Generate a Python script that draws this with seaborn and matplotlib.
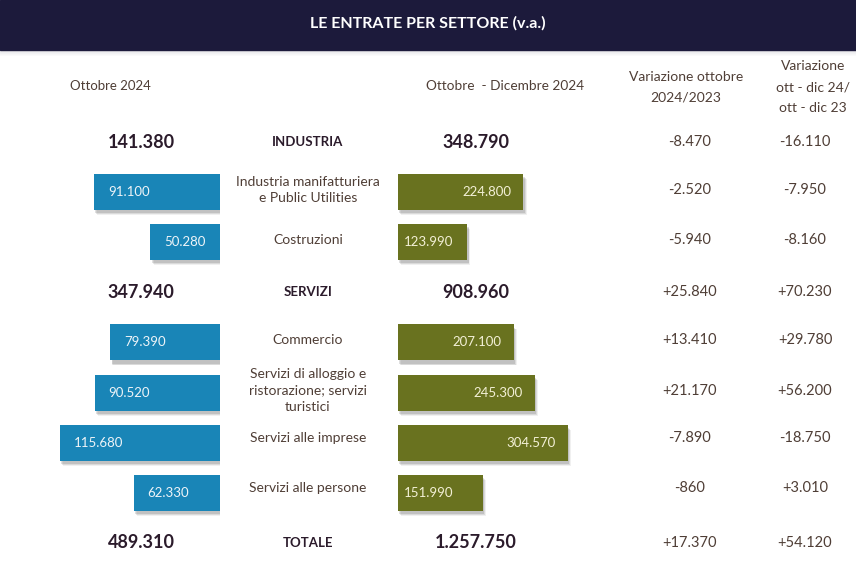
import matplotlib
matplotlib.use("Agg")
import matplotlib.pyplot as plt
import matplotlib.patheffects as pe
import pandas as pd
import seaborn as sns

sns.set_style("white")
plt.rcParams['font.family'] = ['Lato', 'DejaVu Sans']

# Data (rows top to bottom)
rows = ["INDUSTRIA", "Industria manifatturiera\ne Public Utilities", "Costruzioni",
        "SERVIZI", "Commercio", "Servizi di alloggio e\nristorazione; servizi\nturistici",
        "Servizi alle imprese", "Servizi alle persone", "TOTALE"]
is_total = [True, False, False, True, False, False, False, False, True]
ott_2024 = [141380, 91100, 50280, 347940, 79390, 90520, 115680, 62330, 489310]
ott_dic_2024 = [348790, 224800, 123990, 908960, 207100, 245300, 304570, 151990, 1257750]
var_ott = [-8470, -2520, -5940, 25840, 13410, 21170, -7890, -860, 17370]
var_ott_dic = [-16110, -7950, -8160, 70230, 29780, 56200, -18750, 3010, 54120]

title = "LE ENTRATE PER SETTORE (v.a.)"
col_headers = ["Ottobre 2024", "Ottobre  - Dicembre 2024",
               "Variazione ottobre\n2024/2023", "Variazione\nott - dic 24/\nott - dic 23"]

BLUE = "#1985b7"
OLIVE = "#69721f"
NAVY = "#1c1a3b"
DARK = "#2b1b2b"
TEXT = "#4f3e36"


def fmt(v, sign=False):
    s = f"{abs(v):,}".replace(",", ".")
    if v < 0:
        return "-" + s
    return ("+" + s) if sign else s


W, H = 856, 571
fig = plt.figure(figsize=(W / 100, H / 100), dpi=100)
fig.patch.set_facecolor("white")

# Row geometry in pixels
y_top, y_bot = 117, 568
n = len(rows)
row_h = (y_bot - y_top) / n
row_y = [y_top + row_h * (i + 0.5) for i in range(n)]
text_y = [y - (0 if is_total[i] else 2 + 3 * (i > 5)) for i, y in enumerate(row_y)]

# Overlay axes in pixel coordinates for header and text
ov = fig.add_axes([0, 0, 1, 1])
ov.set_xlim(0, W)
ov.set_ylim(H, 0)
ov.axis("off")
ov.add_patch(plt.Rectangle((0, 0), W, 50, color=NAVY, zorder=1))
for k in range(6):
    ov.add_patch(plt.Rectangle((0, 50 + k), W, 1, color=NAVY, alpha=0.12 - 0.02 * k,
                               lw=0, zorder=1))
ov.text(W / 2, 23, title, color="white", fontsize=11.5, fontweight="bold",
        ha="center", va="center")

ov.text(110, 86, col_headers[0], color=TEXT, fontsize=9.5, ha="center", va="center")
ov.text(505, 86, col_headers[1], color=TEXT, fontsize=9.8, ha="center", va="center")
ov.text(686, 87, col_headers[2], color=TEXT, fontsize=10, ha="center", va="center",
        linespacing=1.85)
ov.text(813, 87, col_headers[3], color=TEXT, fontsize=10, ha="center", va="center",
        linespacing=1.85)

for i, label in enumerate(rows):
    y = text_y[i]
    if is_total[i]:
        ov.text(308, y, label, color=DARK, fontsize=9.5, fontweight="bold",
                ha="center", va="center")
        ov.text(141, y, fmt(ott_2024[i]), color=DARK, fontsize=13, fontweight="bold",
                ha="center", va="center")
        ov.text(476, y, fmt(ott_dic_2024[i]), color=DARK, fontsize=13, fontweight="bold",
                ha="center", va="center")
    else:
        ov.text(308, y, label, color=TEXT, fontsize=10, ha="center", va="center",
                linespacing=1.45)
    ov.text(690, y, fmt(var_ott[i], sign=True), color=TEXT, fontsize=10.5,
            ha="center", va="center")
    ov.text(805, y, fmt(var_ott_dic[i], sign=True), color=TEXT, fontsize=10.5,
            ha="center", va="center")

# Bar data (detail rows only)
df = pd.DataFrame({
    "row": [r for r, t in zip(rows, is_total) if not t],
    "ott": [v for v, t in zip(ott_2024, is_total) if not t],
    "ott_dic": [v for v, t in zip(ott_dic_2024, is_total) if not t],
})

# soft drop shadow built from a few offset layers
shadow = [pe.SimplePatchShadow(offset=(dx, dy), shadow_rgbFace="#404040", alpha=a)
          for dx, dy, a in [(2.2, -3.6, 0.08), (1.6, -3.0, 0.12), (1.0, -2.2, 0.16)]]
shadow.append(pe.Normal())

# Left axes: Ottobre 2024 (bars grow leftward)
blue_scale = 160 / 115680  # px per unit
left_w = 220
axl = fig.add_axes([0, (H - y_bot) / H, left_w / W, (y_bot - y_top) / H])
sns.barplot(data=df, y="row", x="ott", order=rows, orient="h", color=BLUE,
            saturation=1, width=36 / row_h, errorbar=None, linewidth=0, ax=axl)
axl.set_xlim(left_w / blue_scale, 0)
axl.set_ylim(n - 0.5, -0.5)
axl.axis("off")
for p in axl.patches:
    p.set_path_effects(shadow)
for _, r in df.iterrows():
    i = rows.index(r["row"])
    axl.annotate(fmt(r["ott"]), xy=(r["ott"], i), xytext=(10, 0),
                 textcoords="offset points", ha="left", va="center",
                 color="#eef4f8", fontsize=9.5)

# Right axes: Ottobre - Dicembre 2024
olive_scale = 170 / 304570
right_x, right_w = 398, 260
axr = fig.add_axes([right_x / W, (H - y_bot) / H, right_w / W, (y_bot - y_top) / H])
sns.barplot(data=df, y="row", x="ott_dic", order=rows, orient="h", color=OLIVE,
            saturation=1, width=36 / row_h, errorbar=None, linewidth=0, ax=axr)
axr.set_xlim(0, right_w / olive_scale)
axr.set_ylim(n - 0.5, -0.5)
axr.axis("off")
for p in axr.patches:
    p.set_path_effects(shadow)
for _, r in df.iterrows():
    i = rows.index(r["row"])
    if r["ott_dic"] < 160000:
        axr.annotate(fmt(r["ott_dic"]), xy=(0, i), xytext=(4.5, 0),
                     textcoords="offset points", ha="left", va="center",
                     color="#f3f0d6", fontsize=9.5)
    else:
        axr.annotate(fmt(r["ott_dic"]), xy=(r["ott_dic"], i), xytext=(-9, 0),
                     textcoords="offset points", ha="right", va="center",
                     color="#f3f0d6", fontsize=9.5)

fig.savefig("out.png", dpi=100, facecolor="white")
